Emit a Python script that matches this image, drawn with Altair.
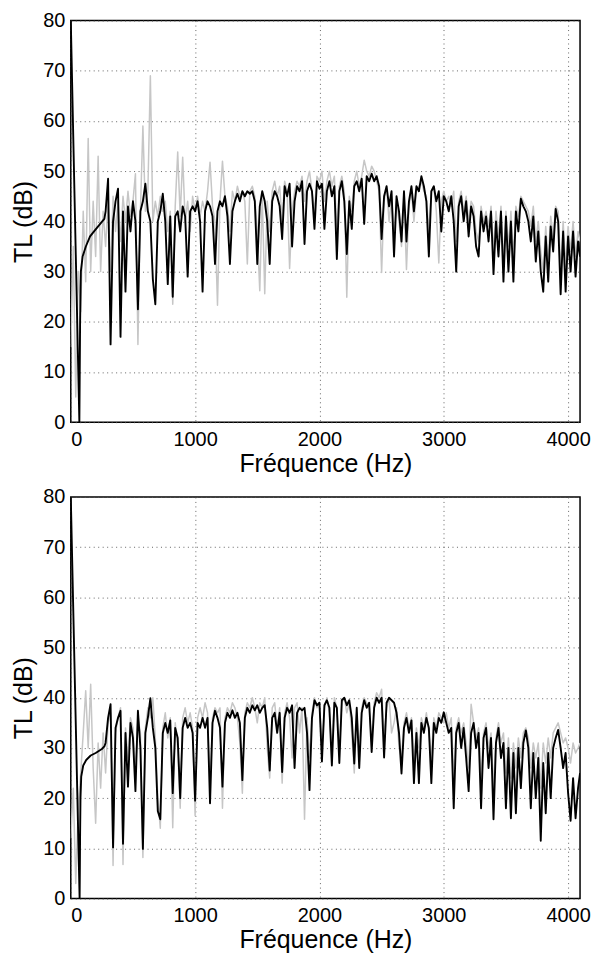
import altair as alt
import pandas as pd

# Frequency sampling grids (Hz)
grid_gray = list(range(0, 4081, 20)) + [4096]
grid_black = list(range(280, 4081, 20)) + [4096]

# ---------------- top panel ----------------
top_black_low_f = [0, 69, 72, 75, 78, 81, 95, 121, 155, 187, 220, 253, 270]
top_black_low_tl = [80, 0, 10, 20, 25, 30, 33, 35, 37, 38, 39, 40, 40.5]
top_black = [
    42, 48.5, 15.5, 40, 44, 46.5, 17, 42, 26, 43,
    38, 44, 40, 22.5, 42, 44, 47.5, 42, 40, 28.5,
    23.5, 40, 42, 45.5, 40, 27.5, 41, 25, 41, 42,
    38, 43, 41, 29, 42, 43, 42, 44, 40, 26,
    42, 44, 43, 41, 31.5, 42, 44, 43, 45, 41,
    31.5, 42, 44, 45.5, 44, 46, 45, 46, 45.5, 46,
    44, 31.5, 43, 46, 44, 40, 31.5, 44, 46, 45,
    43, 36.5, 47, 45, 47.5, 35, 44, 47, 46, 48,
    35.5, 46, 47.5, 46, 38.5, 48, 46.5, 47.5, 38.5, 46,
    48, 45, 47, 32.5, 46, 48, 44, 33.5, 44, 38.5,
    47, 48, 46, 48.5, 39.5, 49, 48, 49.5, 48, 49,
    47, 36.5, 45, 47, 43, 46, 33, 45, 42, 36,
    46, 36, 44, 47, 42, 47, 46, 49, 47, 44,
    33, 46, 47, 44, 46, 38, 45, 44, 42, 45,
    40, 30, 43, 45, 40, 44, 37, 43, 41, 35,
    33, 42, 38, 41, 36, 42, 29.5, 40, 33, 42,
    28, 41, 30, 40, 28, 42, 38, 44.5, 43, 42,
    40, 36, 41, 32, 38, 30, 26, 37, 28, 39,
    34, 42.5, 40, 25.5, 38, 26, 37, 30, 38, 29,
    36, 33,
]
top_gray = [
    15, 35, 5, 30, 22, 42, 28, 56.5, 30, 44,
    33, 53, 30, 42, 35, 44, 30, 45, 38, 44,
    36, 45, 40, 46, 41, 44, 49.5, 15.5, 42, 59,
    42, 46, 69, 40, 44, 41, 45, 42, 44, 38,
    42, 23.5, 43, 53.8, 41, 52.8, 40, 44, 38, 45,
    42, 45, 41, 44, 42, 46, 51.8, 43, 40, 23.3,
    44, 52, 45, 43, 38, 46, 44, 47, 45, 46,
    44, 31.5, 46, 47, 45, 38, 26.2, 45, 25.6, 44,
    38, 46, 48, 45, 47, 40, 48, 46, 30.6, 42,
    46, 48, 47, 49, 44, 48, 50, 46, 42, 49,
    48, 50, 44, 48, 50, 47, 49, 38, 47, 49,
    46, 24.9, 45, 42, 48, 50, 47, 49, 52.2, 50,
    49, 51, 50, 48, 46, 29.8, 44, 47, 40, 45,
    37, 44, 40, 35, 45, 30.4, 43, 46, 40, 46,
    47, 48, 46, 45, 38, 46, 47, 42, 31.7, 44,
    46, 44, 45, 43, 46, 36, 44, 46, 42, 45,
    40, 44, 43, 38, 36, 43, 40, 42, 39, 43,
    34, 42, 37, 43, 32, 42, 35, 42, 33, 43,
    41, 45, 44, 43, 42, 39, 43, 36, 40, 34,
    30, 39, 32, 41, 37, 43, 42, 30, 40, 31,
    39, 34, 40, 33, 38, 36,
]

# ---------------- bottom panel ----------------
bot_black_low_f = [0, 71, 73, 75, 78, 84, 100, 124, 160, 200, 250, 270]
bot_black_low_tl = [80, 0, 6, 13, 20, 24.3, 26.5, 27.6, 28.5, 29, 29.8, 30.3]
bot_black = [
    31, 36, 38.7, 10.2, 34, 36, 37.4, 10.9, 33, 22.3,
    35, 32, 21.4, 37.4, 30, 9.9, 33, 36, 39.9, 34,
    30, 17.4, 15.8, 33, 35, 33, 35.5, 21, 34, 32,
    20, 34, 36, 34, 35, 33, 19.5, 35, 34, 36,
    34, 36, 19, 35, 37.4, 36, 34, 22.3, 35, 37,
    36, 37.5, 36, 37, 35, 23.6, 36, 38, 37, 38.5,
    37.5, 38.5, 37, 38, 38.5, 34, 25.5, 36, 37, 33,
    37, 25.2, 36, 38, 37, 38.5, 26, 37, 38, 37.5,
    38, 33, 21.6, 36, 39.5, 38.5, 39, 27.3, 38.5, 39.5,
    38, 26.5, 39, 38, 27, 39.5, 40, 38.5, 39.5, 36,
    26.9, 38, 26, 37, 39.5, 38, 39, 29.2, 38, 40,
    39, 40, 28.1, 39, 40, 39.5, 39, 37, 33, 24.9,
    34, 36, 33, 35.5, 23, 33, 23, 35, 33, 36,
    34, 23, 35, 33, 36, 35, 37.1, 35, 33, 34,
    18, 33, 35, 30, 34, 28, 21.4, 33, 35, 30,
    33, 18, 32, 34, 26, 32, 15.8, 31, 34, 28,
    31, 18, 30, 16, 29, 17, 30, 22, 31, 33.5,
    30, 18, 29, 20, 28, 11.5, 27, 17, 29, 20,
    30, 32, 33.6, 30, 26, 29, 21, 15.5, 24, 16,
    22, 25,
]
bot_gray = [
    12, 22, 3, 18, 25, 33, 41.4, 30, 42.7, 26,
    15, 31, 22, 33, 25, 35, 37, 6.6, 33, 36,
    38, 6.8, 34, 28, 36, 34, 25, 36, 33, 8.2,
    34, 38, 36, 40, 32, 20, 14, 34, 37, 32,
    36, 14.1, 35, 30, 18, 36, 38, 35, 37, 34,
    16.5, 36, 38, 36, 39, 37, 22, 36, 38, 37,
    38, 18, 36, 38, 37, 39, 38, 36, 31, 21,
    37, 39, 38, 40, 38, 35, 39, 38, 40, 30,
    24, 38, 39, 34, 38, 23, 37, 39, 36, 28,
    38, 39, 33, 38, 15.8, 36, 28, 37, 40, 38,
    39, 30, 38, 40, 37, 29, 40, 38, 30, 39,
    40, 37, 39, 33, 25, 37, 30, 38, 40, 39,
    38, 31, 39, 41, 40, 41.7, 32, 38, 40, 33,
    35, 38, 30, 28, 35, 37, 34, 36, 27, 34,
    30, 36, 34, 37, 33, 28, 36, 34, 37, 36,
    35, 37, 34, 36, 24, 34, 36, 33, 35, 31,
    26, 38.7, 35, 32, 34, 24, 33, 35, 30, 33,
    22, 32, 35, 31, 33, 25, 32, 24, 31, 26,
    32, 28, 33, 34, 32, 26, 31, 28, 31, 22,
    31, 27, 32, 28, 33, 34, 35, 33, 31, 32,
    30, 27, 31, 29, 30, 31,
]

x_ticks = [0, 1000, 2000, 3000, 4000]
y_ticks = [0, 10, 20, 30, 40, 50, 60, 70, 80]

FONT = "Liberation Sans"


def panel(gray_f, gray_tl, black_f, black_tl):
    n = min(len(gray_f), len(gray_tl))
    g = pd.DataFrame({"f": gray_f[:n], "tl": gray_tl[:n]})
    m = min(len(black_f), len(black_tl))
    b = pd.DataFrame({"f": black_f[:m], "tl": black_tl[:m]})
    x = alt.X(
        "f:Q",
        scale=alt.Scale(domain=[0, 4096], nice=False, zero=False),
        axis=alt.Axis(values=x_ticks, format="d", title="Fréquence (Hz)"),
    )
    y = alt.Y(
        "tl:Q",
        scale=alt.Scale(domain=[0, 80], nice=False),
        axis=alt.Axis(values=y_ticks, title="TL (dB)"),
    )
    gray = alt.Chart(g).mark_line(
        color="#c6c6c6", strokeWidth=1.5, clip=True, strokeJoin="round"
    ).encode(x=x, y=y)
    black = alt.Chart(b).mark_line(
        color="black", strokeWidth=1.9, clip=True, strokeJoin="round"
    ).encode(x=x, y=y)
    return alt.layer(gray, black).properties(width=511, height=403)


top = panel(grid_gray, top_gray, top_black_low_f + grid_black, top_black_low_tl + top_black)
bottom = panel(grid_gray, bot_gray, bot_black_low_f + grid_black, bot_black_low_tl + bot_black)

chart = (
    alt.vconcat(top, bottom, spacing=9)
    .properties(padding={"left": 3, "top": 0, "right": 0, "bottom": 0})
    .configure_view(stroke="black", strokeWidth=1.5)
    .configure_axis(
        labelFont=FONT,
        titleFont=FONT,
        labelFontSize=20,
        titleFontSize=25,
        titleFontWeight="normal",
        labelColor="black",
        titleColor="black",
        domain=False,
        ticks=False,
        tickSize=0,
        labelPadding=7,
        titlePadding=2,
        gridColor="#555555",
        gridDash=[1, 3.5],
        gridWidth=1,
        gridOpacity=0.9,
    )
    .configure_axisY(labelPadding=6, titlePadding=6)
)

chart.save("out.html", embed_options={"renderer": "svg", "actions": False})
